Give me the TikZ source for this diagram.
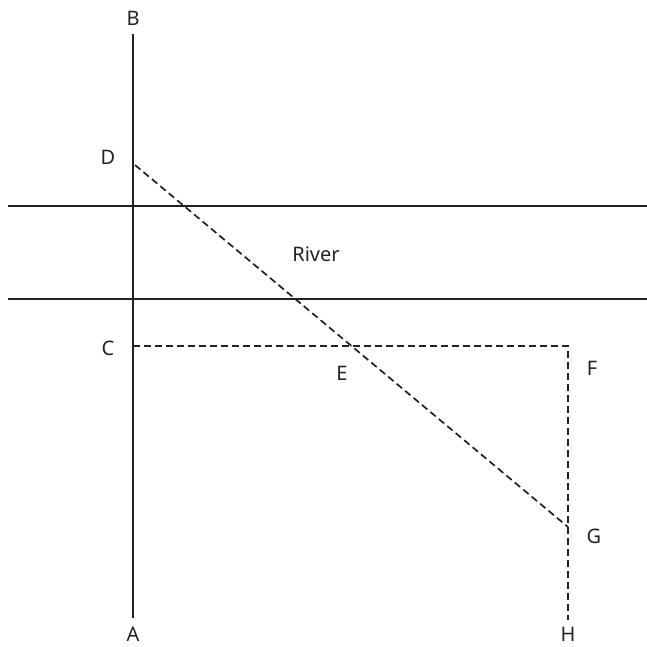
\documentclass[tikz,border=0pt]{standalone}
\usepackage{fontspec}
\setmainfont{Noto Sans}
\definecolor{ink}{HTML}{222222}
\begin{document}
\begin{tikzpicture}[x=1pt,y=-1pt,
  solidline/.style={draw=ink,line width=1.8pt},
  dashline/.style={draw=ink,line width=1.7pt,dash pattern=on 7pt off 4pt},
  lab/.style={text=ink,font=\fontsize{20}{22}\selectfont,inner sep=0pt}]
\useasboundingbox[fill=white] (0,0) rectangle (647,647);
% points
\coordinate (A) at (133,618);
\coordinate (B) at (133,34);
\coordinate (D) at (135,165);
\coordinate (C) at (133,346);
\coordinate (F) at (568,346);
\coordinate (G) at (568,527);
\coordinate (H) at (568,620);
\coordinate (R1l) at (8,206);
\coordinate (R1r) at (647,206);
\coordinate (R2l) at (8,299);
\coordinate (R2r) at (647,299);
% lines
\draw[solidline] (A) -- (B);
\draw[solidline] (R1l) -- (R1r);
\draw[solidline] (R2l) -- (R2r);
\draw[dashline] (D) -- (G);
\draw[dashline] (C) -- (F) -- (H);
% labels
\node[lab] (lA) at (133,634) {A};
\node[lab] (lB) at (133,18) {B};
\node[lab] (lD) at (108,157) {D};
\node[lab] (lC) at (108,348) {C};
\node[lab] (lE) at (342,373) {E};
\node[lab] (lF) at (592,368) {F};
\node[lab] (lG) at (594,536) {G};
\node[lab] (lH) at (568,634) {H};
\node[lab] (lR) at (316,254) {River};
\end{tikzpicture}
\end{document}
